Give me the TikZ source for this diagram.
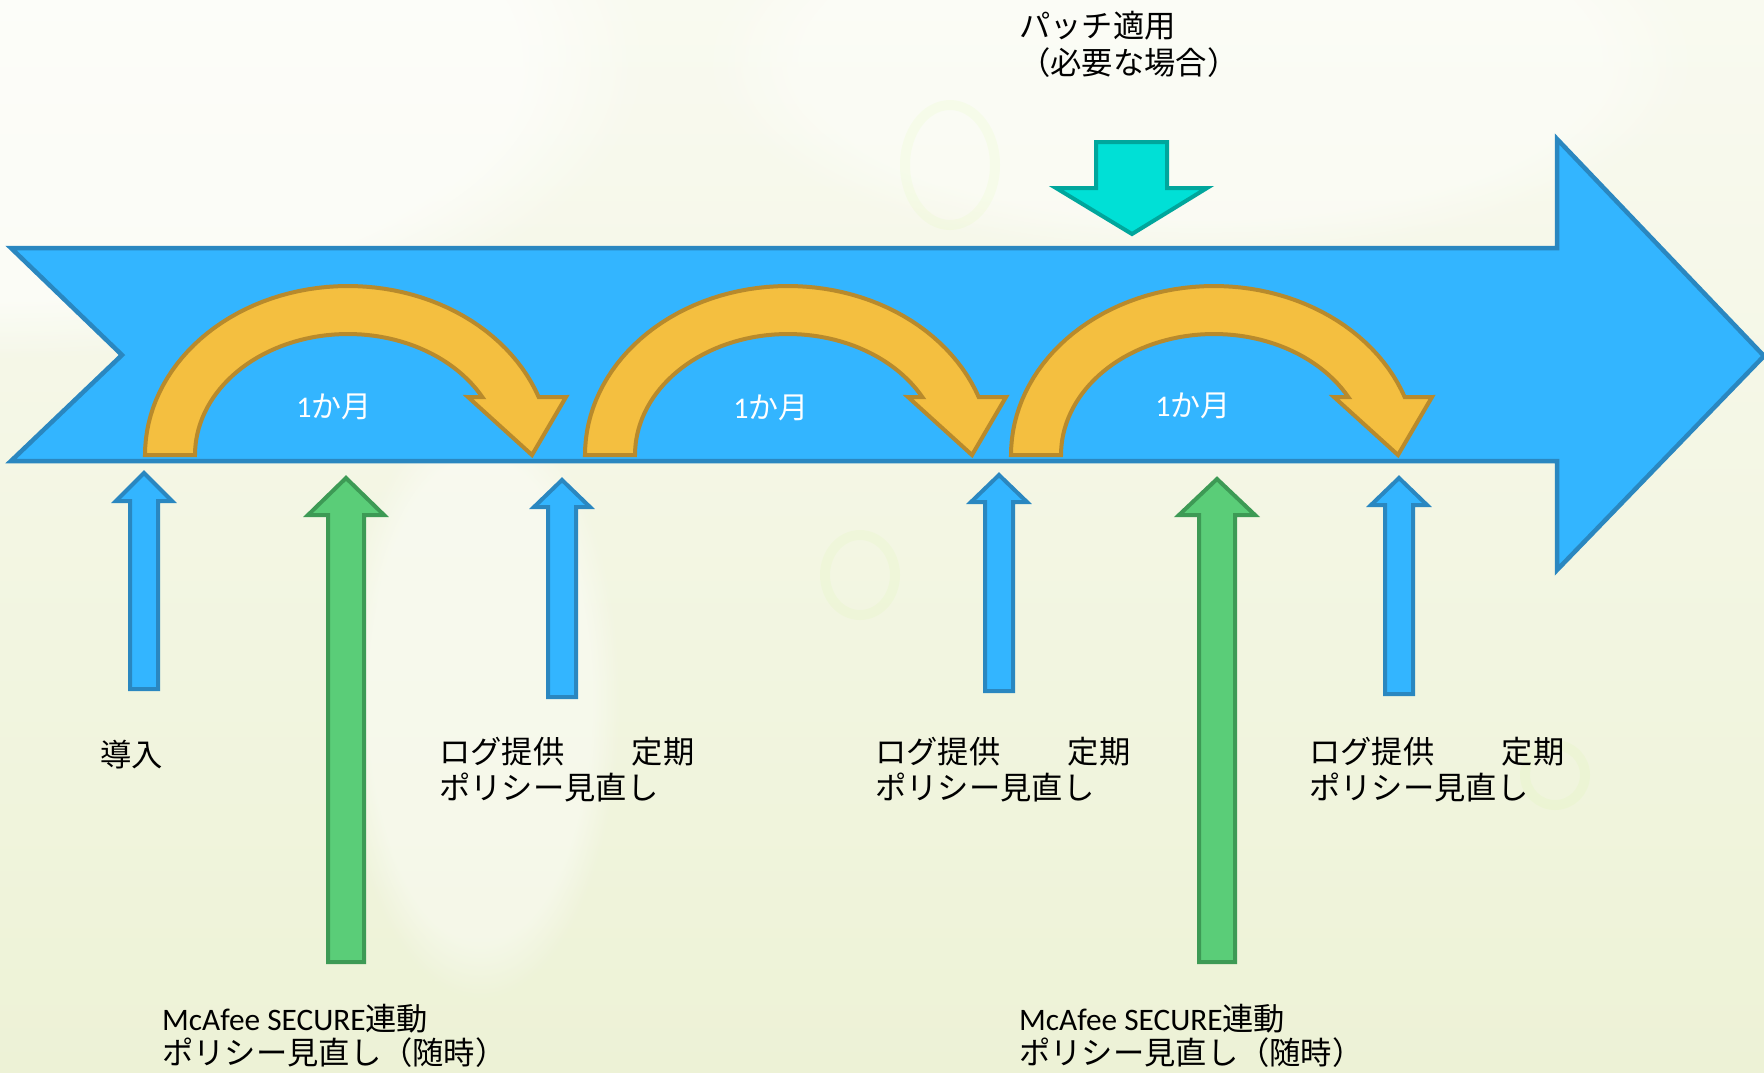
\documentclass[tikz,border=0pt]{standalone}
\usepackage{fontspec}
\usetikzlibrary{fadings}
\setmainfont{Carlito}
\newfontfamily\jp{Noto Sans CJK JP}
\newfontfamily\la{Carlito}
\definecolor{bluefill}{HTML}{33B5FF}
\definecolor{bluedraw}{HTML}{2A87C0}
\definecolor{orfill}{HTML}{F4BF40}
\definecolor{ordraw}{HTML}{B88A2C}
\definecolor{grfill}{HTML}{5ACD78}
\definecolor{grdraw}{HTML}{3D9A55}
\definecolor{cyfill}{HTML}{00E0D6}
\definecolor{cydraw}{HTML}{00A69C}
\definecolor{bgtop}{HTML}{F9FAF0}
\definecolor{bgbot}{HTML}{EDF2D6}
\tikzset{
  bigarrow/.style={fill=bluefill, draw=bluedraw, line width=4.5pt, line join=miter},
  orarrow/.style={fill=orfill, draw=ordraw, line width=4pt, line join=miter},
  bluearrow/.style={fill=bluefill, draw=bluedraw, line width=4pt, line join=miter},
  grarrow/.style={fill=grfill, draw=grdraw, line width=4pt, line join=miter},
  cyarrow/.style={fill=cyfill, draw=cydraw, line width=4pt, line join=miter},
  lbl/.style={anchor=base west, inner sep=0pt, font=\jp\fontsize{31.3}{37}\selectfont, text=black},
  monthlbl/.style={anchor=center, inner sep=0pt, font=\jp\fontsize{30}{36}\selectfont, text=white},
  bokeh/.style={draw=green!40!yellow!60!white, line width=10pt, opacity=0.07},
  softblob/.style={fill=white, path fading=circle with fuzzy edge 20 percent}
}
\newcommand{\curvedarrow}[1]{%
  \draw[orarrow] (#1,455)
    -- plot[domain=180:340,samples=60] ({#1+203+203*cos(\x)},{455+169*sin(\x)})
    -- (#1+421,397) -- (#1+387,455) -- (#1+323,397)
    -- plot[domain=331.4:180,samples=60] ({#1+203+153*cos(\x)},{455+121*sin(\x)})
    -- cycle;}
\newcommand{\bluearrowup}[4]{%
  \draw[bluearrow] (#1,#2) -- (#1+28,#3) -- (#1+14,#3) -- (#1+14,#4)
    -- (#1-14,#4) -- (#1-14,#3) -- (#1-28,#3) -- cycle;}
\newcommand{\greenarrowup}[4]{%
  \draw[grarrow] (#1,#2) -- (#1+38,#3) -- (#1+18,#3) -- (#1+18,#4)
    -- (#1-18,#4) -- (#1-18,#3) -- (#1-38,#3) -- cycle;}
\newcommand{\gap}{　　\hspace{5pt}}
\begin{document}
\begin{tikzpicture}[x=1pt,y=-1pt]
\useasboundingbox (0,0) rectangle (1764,1072);
% background
\shade[top color=bgtop, bottom color=bgbot] (0,0) rectangle (1764,1072);
\fill[softblob, opacity=0.6] (0,60) ellipse (650 and 300);
\fill[softblob, opacity=0.4] (1200,60) ellipse (500 and 200);
\fill[softblob, opacity=0.4] (480,700) ellipse (140 and 300);
\draw[bokeh] (950,165) ellipse (45 and 60);
\draw[bokeh] (860,575) ellipse (35 and 40);
\draw[bokeh] (1555,775) circle (30);

% main timeline arrow
\draw[bigarrow] (11,248) -- (1557,248) -- (1557,139) -- (1764,356) -- (1557,570)
  -- (1557,461) -- (11,461) -- (122,355) -- cycle;

% monthly curved arrows
\curvedarrow{145}
\curvedarrow{585}
\curvedarrow{1011}
\node[monthlbl] (m1) at (334,407) {{\la 1}か月};
\node[monthlbl] (m2) at (771,408) {{\la 1}か月};
\node[monthlbl] (m3) at (1193,406) {{\la 1}か月};

% patch arrow
\draw[cyarrow] (1096,142) -- (1167,142) -- (1167,188) -- (1207,188) -- (1132,234)
  -- (1056,188) -- (1096,188) -- cycle;

% event arrows
\bluearrowup{144}{473}{501}{689}
\bluearrowup{562}{480}{507}{697}
\bluearrowup{999}{475}{502}{691}
\bluearrowup{1399}{478}{505}{694}
\greenarrowup{346}{478}{515}{962}
\greenarrowup{1217}{479}{515}{962}

% texts
\node[lbl] (patch1) at (1019,37) {パッチ適用};
\node[lbl] (patch2) at (1019,74) {（必要な場合）};
\node[lbl] (intro) at (100,766) {導入};
\node[lbl] (log1a) at (439,763) {ログ提供\gap 定期};
\node[lbl] (log1b) at (439,799) {ポリシー見直し};
\node[lbl] (log2a) at (875,763) {ログ提供\gap 定期};
\node[lbl] (log2b) at (875,799) {ポリシー見直し};
\node[lbl] (log3a) at (1309,763) {ログ提供\gap 定期};
\node[lbl] (log3b) at (1309,799) {ポリシー見直し};
\node[lbl] (mc1a) at (162,1030) {{\la McAfee SECURE}連動};
\node[lbl] (mc1b) at (162,1064) {ポリシー見直し（随時）};
\node[lbl] (mc2a) at (1019,1030) {{\la McAfee SECURE}連動};
\node[lbl] (mc2b) at (1019,1064) {ポリシー見直し（随時）};
\end{tikzpicture}
\end{document}
